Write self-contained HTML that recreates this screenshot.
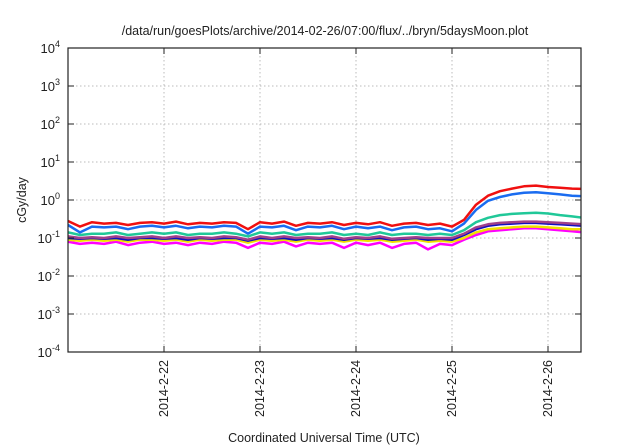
<!DOCTYPE html>
<html><head><meta charset="utf-8"><style>
html,body{margin:0;padding:0;background:#fff;}
svg{display:block;font-family:"Liberation Sans",sans-serif;}
</style></head><body>
<svg id="chart" width="640" height="448">
<text x="325" y="35" text-anchor="middle" font-size="12.5" fill="#222">/data/run/goesPlots/archive/2014-02-26/07:00/flux/../bryn/5daysMoon.plot</text>
<text transform="translate(26,200) rotate(-90)" text-anchor="middle" font-size="12.5" fill="#222">cGy/day</text>
<text x="324" y="442" text-anchor="middle" font-size="12.5" fill="#222">Coordinated Universal Time (UTC)</text>
<g id="grid"></g><g id="series"></g><g id="axes"></g>
</svg>
<script>
const dayTicks = ["2014-2-22","2014-2-23","2014-2-24","2014-2-25","2014-2-26"];
const tickDays = [1,2,3,4,5];
const yExps = [-4,-3,-2,-1,0,1,2,3,4];
const stepHours = 3;
const red = [0.28,0.2,0.26,0.24,0.25,0.22,0.25,0.26,0.24,0.27,0.23,0.25,0.24,0.26,0.25,0.17,0.26,0.24,0.27,0.21,0.25,0.24,0.26,0.22,0.25,0.23,0.26,0.21,0.24,0.25,0.22,0.24,0.2,0.3,0.75,1.3,1.7,2.0,2.3,2.4,2.2,2.1,2.0,1.95];
const blue = [0.22,0.14,0.2,0.19,0.2,0.17,0.2,0.21,0.19,0.21,0.18,0.2,0.19,0.21,0.2,0.13,0.2,0.19,0.21,0.16,0.2,0.19,0.21,0.17,0.2,0.18,0.2,0.16,0.19,0.2,0.17,0.18,0.15,0.24,0.55,0.95,1.2,1.4,1.55,1.6,1.5,1.4,1.3,1.25];
const green = [0.14,0.12,0.13,0.13,0.14,0.12,0.13,0.14,0.13,0.14,0.12,0.13,0.13,0.14,0.13,0.11,0.14,0.13,0.14,0.12,0.13,0.13,0.14,0.12,0.13,0.12,0.14,0.12,0.13,0.13,0.12,0.13,0.12,0.16,0.26,0.34,0.4,0.43,0.45,0.46,0.44,0.4,0.37,0.34];
const purple = [0.11,0.1,0.105,0.1,0.11,0.1,0.105,0.11,0.1,0.11,0.1,0.105,0.1,0.11,0.105,0.09,0.11,0.1,0.11,0.1,0.105,0.1,0.11,0.095,0.105,0.1,0.11,0.095,0.1,0.105,0.1,0.1,0.1,0.13,0.19,0.23,0.25,0.26,0.27,0.27,0.26,0.25,0.24,0.23];
const darkblue = [0.1,0.095,0.1,0.095,0.1,0.09,0.1,0.1,0.095,0.1,0.09,0.1,0.095,0.1,0.1,0.085,0.1,0.095,0.1,0.09,0.1,0.095,0.1,0.09,0.1,0.095,0.1,0.09,0.095,0.1,0.09,0.095,0.09,0.12,0.17,0.21,0.23,0.24,0.25,0.25,0.24,0.23,0.22,0.21];
const yellow = [0.09,0.085,0.09,0.085,0.09,0.08,0.09,0.09,0.085,0.09,0.08,0.09,0.085,0.09,0.09,0.075,0.09,0.085,0.09,0.08,0.09,0.085,0.09,0.08,0.09,0.085,0.09,0.08,0.085,0.09,0.08,0.085,0.08,0.1,0.14,0.17,0.18,0.19,0.2,0.2,0.19,0.18,0.17,0.17];
const magenta = [0.08,0.07,0.075,0.07,0.08,0.065,0.075,0.08,0.07,0.075,0.065,0.075,0.07,0.08,0.075,0.055,0.075,0.07,0.08,0.06,0.075,0.07,0.075,0.055,0.075,0.065,0.075,0.055,0.07,0.075,0.05,0.07,0.065,0.09,0.12,0.15,0.16,0.17,0.18,0.18,0.17,0.16,0.15,0.14];

const L=68,R=581,T=48,B=352,dayPx=96;
const NS="http://www.w3.org/2000/svg";
const xS=d=>L+d*dayPx;
const yS=v=>B-(Math.log10(v)+4)*(B-T)/8;
function mk(tag,attrs,parent){const e=document.createElementNS(NS,tag);for(const k in attrs)e.setAttribute(k,attrs[k]);parent.appendChild(e);return e;}
const grid=document.getElementById('grid'),axes=document.getElementById('axes'),ser=document.getElementById('series');
const defs=mk('defs',{},document.getElementById('chart'));
const cp=mk('clipPath',{id:'clip'},defs);mk('rect',{x:L,y:T,width:R-L,height:B-T},cp);
ser.setAttribute('clip-path','url(#clip)');
yExps.forEach(e=>{
  const y=yS(Math.pow(10,e));
  if(e>-4&&e<4){const g=mk('line',{x1:L,x2:R,y1:y,y2:y,stroke:'#bbb','stroke-dasharray':'1.5,2.5','stroke-width':1},grid);
  }
  mk('line',{x1:L,x2:L+6,y1:y,y2:y,stroke:'#222'},axes);
  mk('line',{x1:R,x2:R-6,y1:y,y2:y,stroke:'#222'},axes);
  const t=mk('text',{x:L-8,y:y+5,'text-anchor':'end','font-size':13,fill:'#222'},axes);
  
  
  t.appendChild(document.createTextNode('10'));
  const s=mk('tspan',{dy:-6,'font-size':9},t);s.textContent=e;
});
tickDays.forEach((d,i)=>{
  const x=xS(d);
  const g=mk('line',{x1:x,x2:x,y1:T,y2:B,stroke:'#bbb','stroke-dasharray':'1.5,2.5'},grid);
  
  
  mk('line',{x1:x,x2:x,y1:B,y2:B-6,stroke:'#222'},axes);
  mk('line',{x1:x,x2:x,y1:T,y2:T+6,stroke:'#222'},axes);
  const t=mk('text',{transform:`translate(${x+4},${B+8}) rotate(-90)`,'text-anchor':'end','font-size':12.5,fill:'#222'},axes);
  
  
  t.textContent=dayTicks[i];
});
const fr=mk('rect',{x:L,y:T,width:R-L,height:B-T,fill:'none',stroke:'#222','stroke-width':1.2},axes);


const series=[[magenta,'#ff00ff','magenta'],[yellow,'#f0e000','yellow'],[darkblue,'#1010c0','darkblue'],[purple,'#a0408a','purple'],[green,'#20c898','green'],[blue,'#1a6cf0','blue'],[red,'#f01010','red']];
series.forEach(([arr,col,nm])=>{
  const d=arr.map((v,i)=>(i?'L':'M')+xS(i*stepHours/24).toFixed(1)+','+yS(v).toFixed(1)).join('');
  const p=mk('path',{d:d,fill:'none',stroke:col,'stroke-width':2.5,'stroke-linejoin':'round'},ser);
  
  
});
</script>
</body></html>
